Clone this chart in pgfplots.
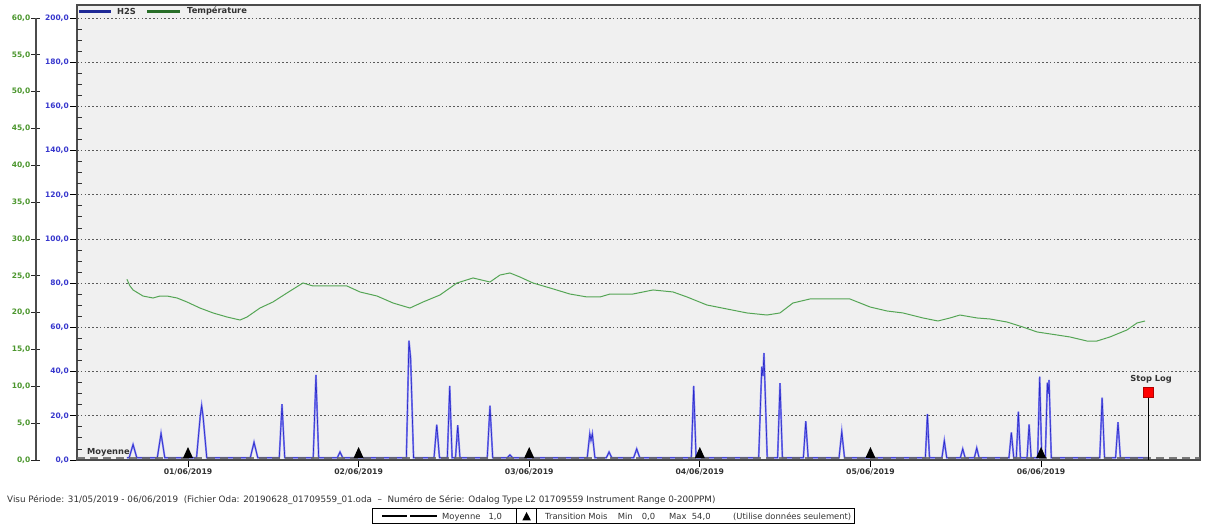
\documentclass[border=0pt]{standalone}
\usepackage{pgfplots}
\pgfplotsset{compat=1.18}
\usepackage{fontspec}
\setmainfont{DejaVu Sans}
\definecolor{hblue}{RGB}{40,40,200}
\definecolor{hlblue}{RGB}{125,125,240}
\definecolor{tgreen}{RGB}{85,165,85}
\definecolor{lblgreen}{RGB}{75,150,45}
\definecolor{lblblue}{RGB}{55,55,205}
\definecolor{framegray}{RGB}{75,75,75}
\definecolor{bggray}{RGB}{240,240,240}
\definecolor{txtgray}{RGB}{50,50,50}
\definecolor{navy}{RGB}{30,40,150}
\definecolor{dkgreen}{RGB}{40,110,40}
\newcommand\ylfont{\fontsize{7.5}{8}\selectfont\bfseries}
\newcommand\xlfont{\fontsize{7.7}{8}\selectfont\bfseries}
\newcommand\lgfont{\fontsize{8.3}{9}\selectfont\bfseries}
\newcommand\btfont{\fontsize{8.8}{10}\selectfont}
\newcommand\bxfont{\fontsize{8.4}{10}\selectfont}
\pgfdeclareplotmark{tri}{\pgfpathmoveto{\pgfqpoint{0pt}{11pt}}\pgfpathlineto{\pgfqpoint{-5pt}{0pt}}\pgfpathlineto{\pgfqpoint{5pt}{0pt}}\pgfpathclose\pgfusepathqfill}
\begin{document}
\begin{tikzpicture}[x=1pt,y=1pt]
\useasboundingbox (0pt,0pt) rectangle (1208pt,527pt);
% ---------- H2S axis ----------
\begin{axis}[
  at={(77pt,67pt)}, anchor=south west, scale only axis,
  width=1123pt, height=455pt,
  xmin=-0.6506, xmax=5.932, ymin=0, ymax=205.88,
  axis background/.style={fill=bggray},
  axis line style={framegray, line width=1.3pt},
  xtick={0,1,2,3,4,5},
  xticklabels={01/06/2019,02/06/2019,03/06/2019,04/06/2019,05/06/2019,06/06/2019},
  ytick={0,20,...,200},
  tick align=outside, major tick length=7pt,
  xtick pos=bottom, ytick pos=left,
  tick style={black, line width=0.8pt},
  ymajorgrids,
  major grid style={dash pattern=on 1.5pt off 2.3pt, black!65, line width=0.9pt},
  /pgf/number format/assume math mode=true,
  yticklabel style={font=\ylfont, text=lblblue, inner xsep=1pt,
    /pgf/number format/fixed, /pgf/number format/fixed zerofill,
    /pgf/number format/precision=1, /pgf/number format/use comma},
  xticklabel style={font=\xlfont, text=txtgray, inner ysep=1.5pt},
]
% H2S
\pgfplotstableread{
x y
-0.358 1
-0.345 1
-0.322 7
-0.300 1
-0.180 1
-0.158 12
-0.136 1
0.050 1
0.072 20
0.080 24.6
0.088 20
0.110 1
0.365 1
0.387 8
0.409 1
0.535 1
0.551 25.3
0.567 1
0.734 1
0.750 38.5
0.766 1
0.875 1
0.891 3.6
0.907 1
1.280 1
1.295 54
1.305 46
1.322 1
1.442 1
1.458 16
1.474 1
1.520 1
1.534 33.5
1.548 1
1.568 1
1.581 15.8
1.594 1
1.754 1
1.770 24.6
1.786 1
1.871 1
1.887 2.3
1.903 1
2.340 1
2.355 11.8
2.362 9
2.370 11.8
2.385 1
2.452 1
2.468 3.6
2.484 1
2.612 1
2.630 5
2.648 1
2.950 1
2.964 33.5
2.978 1
3.345 1
3.363 42.2
3.370 38
3.376 48.4
3.395 1
3.456 1
3.470 34.8
3.484 1
3.607 1
3.621 17.6
3.635 1
3.816 1
3.832 12.8
3.848 1
4.322 1
4.334 20.8
4.346 1
4.419 1
4.433 8.7
4.447 1
4.527 1
4.541 5
4.555 1
4.609 1
4.623 5.4
4.637 1
4.812 1
4.826 12.5
4.840 1
4.855 1
4.867 21.9
4.879 1
4.918 1
4.930 16.1
4.942 1
4.980 1
4.992 37.7
5.004 1
5.025 1
5.037 35
5.042 30
5.047 36.2
5.060 1
5.344 1
5.358 28.2
5.372 1
5.437 1
5.451 17.1
5.465 1
5.627 1
}\hdata
\addplot[hlblue, line width=1.8pt] table {\hdata};
\addplot[hblue, line width=0.6pt] table {\hdata};
% mean line
\addplot[black!60, line width=1.7pt, dash pattern=on 8pt off 5pt, opacity=0.85] coordinates {(-0.6506,1) (5.932,1)};
% transition markers
\addplot[only marks, mark=tri, black] coordinates {(0,0.9) (1,0.9) (2,0.9) (3,0.9) (4,0.9) (5,0.9)};
% stop log
\addplot[black, line width=0.8pt] coordinates {(5.627,0) (5.627,30.5)};
\addplot[only marks, mark=square*, mark size=5pt, mark options={fill=red, draw=red!70!black, line width=0.4pt}] coordinates {(5.627,30.5)};
\node[font=\lgfont, text=txtgray] at (axis cs:5.645,30.5) [yshift=13.7pt] {Stop Log};
\node[font=\lgfont, text=txtgray, anchor=base west, inner sep=0pt] at (axis cs:-0.592,2.3) {Moyenne};
\end{axis}
% ---------- minor ticks overlay ----------
\begin{axis}[
  at={(77pt,67pt)}, anchor=south west, scale only axis,
  width=1123pt, height=455pt,
  xmin=-0.6506, xmax=5.932, ymin=0, ymax=205.88,
  axis x line=none, axis y line*=left,
  y axis line style={draw=none},
  ytick={5,10,15,25,30,35,45,50,55,65,70,75,85,90,95,105,110,115,125,130,135,145,150,155,165,170,175,185,190,195},
  yticklabels={},
  tick align=inside, major tick length=5pt,
  tick style={black!80, line width=0.8pt},
]
\addplot[draw=none] coordinates {(0,0)};
\end{axis}
% ---------- temperature axis ----------
\begin{axis}[
  at={(36pt,67pt)}, anchor=south west, scale only axis,
  width=1164pt, height=442pt,
  xmin=-0.8910, xmax=5.932, ymin=0, ymax=60,
  axis x line=none, axis y line*=left,
  y axis line style={framegray, line width=1.3pt},
  ytick={0,5,...,60},
  tick align=center, major tick length=9pt,
  tick style={black!85, line width=0.8pt},
  /pgf/number format/assume math mode=true,
  yticklabel style={font=\ylfont, text=lblgreen, inner xsep=1pt,
    /pgf/number format/fixed, /pgf/number format/fixed zerofill,
    /pgf/number format/precision=1, /pgf/number format/use comma},
]
\addplot[tgreen, line width=1pt] coordinates {
(-0.358,24.53) (-0.340,23.62) (-0.322,23.08) (-0.264,22.26) (-0.205,21.99)
(-0.164,22.26) (-0.123,22.26) (-0.064,21.99) (-0.006,21.45) (0.070,20.63)
(0.147,19.96) (0.229,19.41) (0.305,19.00) (0.346,19.41) (0.422,20.63)
(0.498,21.45) (0.580,22.67) (0.674,24.03) (0.733,23.62) (0.932,23.62)
(1.008,22.81) (1.108,22.26) (1.202,21.31) (1.301,20.63) (1.378,21.45)
(1.477,22.40) (1.577,24.03) (1.671,24.71) (1.770,24.16) (1.829,25.11)
(1.887,25.39) (1.946,24.84) (2.022,24.03) (2.122,23.35) (2.239,22.53)
(2.339,22.13) (2.415,22.13) (2.474,22.53) (2.608,22.53) (2.726,23.08)
(2.843,22.81) (2.925,22.13) (3.042,21.04) (3.159,20.50) (3.277,19.96)
(3.394,19.68) (3.470,19.96) (3.546,21.31) (3.646,21.86) (3.781,21.86)
(3.880,21.86) (3.998,20.77) (4.097,20.23) (4.191,19.96) (4.308,19.28)
(4.396,18.87) (4.467,19.28) (4.525,19.68) (4.625,19.28) (4.701,19.14)
(4.801,18.73) (4.894,18.05) (4.977,17.38) (5.094,16.97) (5.170,16.70)
(5.270,16.15) (5.328,16.15) (5.404,16.70) (5.504,17.65) (5.563,18.60)
(5.610,18.87)};
\end{axis}
% ---------- top legend ----------
\draw[navy, line width=3pt] (79pt,515pt) -- (111pt,515pt);
\node[font=\lgfont, text=txtgray, anchor=west, inner sep=0pt] at (117pt,515.5pt) {H2S};
\draw[dkgreen, line width=3pt] (147pt,515pt) -- (180pt,515pt);
\node[font=\lgfont, text=txtgray, anchor=west, inner sep=0pt] at (187pt,515.5pt) {Température};
% ---------- bottom text ----------
\node[font=\btfont, text=txtgray, anchor=base west, inner sep=0pt] at (7pt,24pt) {Visu Période: 31/05/2019 - 06/06/2019\ \ (Fichier Oda: 20190628\_01709559\_01.oda\ \ --\ \ Numéro de Série: Odalog Type L2 01709559 Instrument Range 0-200PPM)};
\draw[black, line width=0.8pt] (372.7pt,4pt) rectangle (854pt,18.5pt);
\draw[black, line width=2.8pt] (382pt,11pt) -- (407pt,11pt);
\draw[black, line width=2.8pt] (410pt,11pt) -- (437pt,11pt);
\node[font=\bxfont, text=txtgray, anchor=base west, inner sep=0pt] at (442pt,7.5pt) {Moyenne\ \ \ 1,0};
\draw[black, line width=0.8pt] (516.5pt,4pt) -- (516.5pt,18.5pt);
\draw[black, line width=0.8pt] (536.7pt,4pt) -- (536.7pt,18.5pt);
\fill[black] (526.6pt,15pt) -- (522.3pt,6.5pt) -- (530.9pt,6.5pt) -- cycle;
\node[font=\bxfont, text=txtgray, anchor=base west, inner sep=0pt] at (545pt,7.5pt) {Transition Mois};
\node[font=\bxfont, text=txtgray, anchor=base west, inner sep=0pt] at (617.7pt,7.5pt) {Min};
\node[font=\bxfont, text=txtgray, anchor=base west, inner sep=0pt] at (641.7pt,7.5pt) {0,0};
\node[font=\bxfont, text=txtgray, anchor=base west, inner sep=0pt] at (669pt,7.5pt) {Max};
\node[font=\bxfont, text=txtgray, anchor=base west, inner sep=0pt] at (691.7pt,7.5pt) {54,0};
\node[font=\bxfont, text=txtgray, anchor=base west, inner sep=0pt] at (733pt,7.5pt) {(Utilise données seulement)};
\end{tikzpicture}
\end{document}
